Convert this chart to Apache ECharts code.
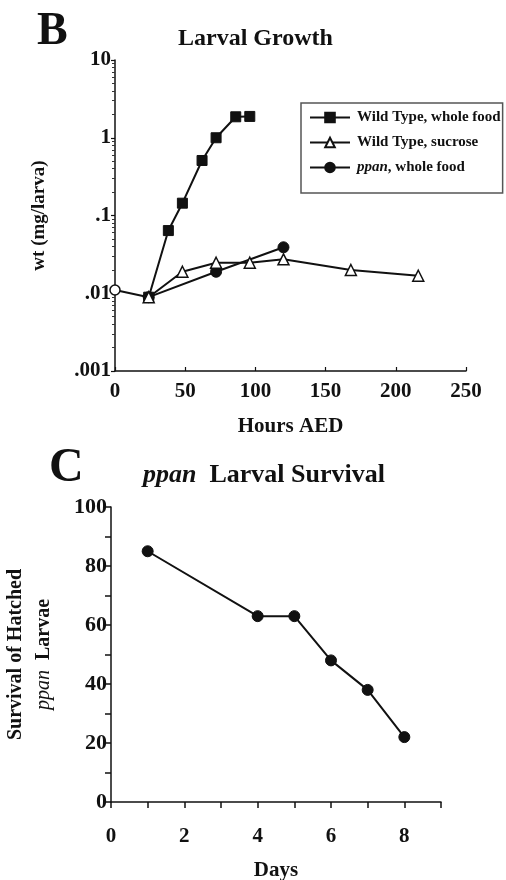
<!DOCTYPE html>
<html>
<head>
<meta charset="utf-8">
<script src="https://cdn.jsdelivr.net/npm/echarts@6/dist/echarts.min.js"></script>
<style>
  html, body { margin: 0; padding: 0; background: #fff; }
  #chart { width: 506px; height: 880px; }
</style>
</head>
<body>
<div id="chart"></div>
<script>
  // panel B: larval growth (wt in mg/larva vs hours AED)
  const wholeFoodHours = [24, 38, 48, 62, 72, 86, 96];
  const wholeFoodWt = [0.0089, 0.064, 0.144, 0.51, 1.0, 1.86, 1.88];
  const sucroseHours = [0, 24, 48, 72, 96, 120, 168, 216];
  const sucroseWt = [0.011, 0.0089, 0.0189, 0.0247, 0.0247, 0.0273, 0.0199, 0.0168];
  const ppanHours = [24, 72, 120];
  const ppanWt = [0.0089, 0.0189, 0.039];
  const wtTickValues = [0.001, 0.01, 0.1, 1, 10];
  const wtTickLabels = ['.001', '.01', '.1', '1', '10'];

  // panel C: ppan larval survival
  const survivalDays = [1, 4, 5, 6, 7, 8];
  const survivalPct = [85, 63, 63, 48, 38, 22];

  const serif = '"Liberation Serif", "DejaVu Serif", serif';
  const black = '#111';

  function pairs(xs, ys) {
    return xs.map((x, i) => [x, ys[i]]);
  }

  let chart = echarts.init(document.getElementById('chart'));

  let axisLabelStyle = {
    color: black,
    fontFamily: serif,
    fontWeight: 'bold',
    fontSize: 21
  };
  let nameStyle = {
    color: black,
    fontFamily: serif,
    fontWeight: 'bold',
    fontSize: 21
  };

  let option = {
    backgroundColor: '#fff',
    animation: false,
    graphic: [
      {type: 'text', left: 37, top: 9, style: {text: 'B', font: 'bold 46px ' + serif, fill: black}},
      {type: 'text', left: 49, top: 445, style: {text: 'C', font: 'bold 48px ' + serif, fill: black}}
    ],
    title: [
      {
        text: 'Larval Growth',
        left: 178,
        top: 27,
        padding: 0,
        textStyle: {color: black, fontFamily: serif, fontWeight: 'bold', fontSize: 24}
      },
      {
        text: '{i|ppan}{b|  Larval Survival}',
        left: 143,
        top: 462,
        padding: 0,
        textStyle: {
          rich: {
            i: {color: black, fontFamily: serif, fontStyle: 'italic', fontSize: 26},
            b: {color: black, fontFamily: serif, fontWeight: 'bold', fontSize: 26}
          }
        }
      }
    ],
    legend: {
      orient: 'vertical',
      left: 301,
      top: 103,
      padding: [7, 2, 18, 8],
      itemGap: 10,
      itemWidth: 40,
      itemHeight: 12,
      borderColor: '#555',
      borderWidth: 1.5,
      data: ['Wild Type, whole food', 'Wild Type, sucrose', 'ppan, whole food'],
      formatter: function (name) {
        if (name.indexOf('ppan') === 0) {
          return '{i|ppan}{b|' + name.slice(4) + '}';
        }
        return '{b|' + name + '}';
      },
      textStyle: {
        padding: [0, 0, 0, 2],
        rich: {
          i: {color: black, fontFamily: serif, fontStyle: 'italic', fontWeight: 'bold', fontSize: 15},
          b: {color: black, fontFamily: serif, fontWeight: 'bold', fontSize: 15}
        }
      }
    },
    grid: [
      {left: 115, top: 60, width: 351, height: 311, outerBoundsMode: 'none'},
      {left: 111, top: 507, width: 330, height: 295, outerBoundsMode: 'none'}
    ],
    xAxis: [
      {
        gridIndex: 0,
        type: 'value',
        min: 0,
        max: 250,
        interval: 50,
        name: 'Hours AED',
        nameLocation: 'middle',
        nameGap: 45,
        nameTextStyle: nameStyle,
        axisLine: {lineStyle: {color: black, width: 1.5}},
        axisTick: {inside: true, length: 4, lineStyle: {color: black, width: 1.2}},
        axisLabel: Object.assign({margin: 10}, axisLabelStyle),
        splitLine: {show: false}
      },
      {
        gridIndex: 1,
        type: 'value',
        min: 0,
        max: 9,
        interval: 1,
        name: 'Days',
        nameLocation: 'middle',
        nameGap: 58,
        nameTextStyle: nameStyle,
        axisLine: {lineStyle: {color: black, width: 1.5}},
        axisTick: {length: 6, lineStyle: {color: black, width: 1.5}},
        axisLabel: Object.assign({
          margin: 24,
          formatter: function (v) { return v % 2 === 0 ? String(v) : ''; }
        }, axisLabelStyle),
        splitLine: {show: false}
      }
    ],
    yAxis: [
      {
        gridIndex: 0,
        type: 'log',
        logBase: 10,
        min: 0.001,
        max: 10,
        name: 'wt (mg/larva)',
        nameLocation: 'middle',
        nameGap: 66,
        nameRotate: 90,
        nameTextStyle: Object.assign({}, nameStyle, {fontSize: 19}),
        axisLine: {show: true, lineStyle: {color: black, width: 1.5}},
        axisTick: {length: 4, lineStyle: {color: black, width: 1.2}},
        minorTick: {show: true, splitNumber: 9, length: 3, lineStyle: {color: '#333', width: 1}},
        axisLabel: Object.assign({
          margin: 4,
          formatter: function (v) {
            for (let i = 0; i < wtTickValues.length; i++) {
              if (Math.abs(Math.log10(v) - Math.log10(wtTickValues[i])) < 1e-6) return wtTickLabels[i];
            }
            return '';
          }
        }, axisLabelStyle),
        splitLine: {show: false}
      },
      {
        gridIndex: 1,
        type: 'value',
        min: 0,
        max: 100,
        interval: 10,
        name: '{b|Survival of Hatched}\n{i|ppan}{b|  Larvae}',
        nameLocation: 'middle',
        nameGap: 53,
        nameRotate: 90,
        nameTextStyle: {
          lineHeight: 28,
          rich: {
            b: {color: black, fontFamily: serif, fontWeight: 'bold', fontSize: 20, lineHeight: 28},
            i: {color: black, fontFamily: serif, fontStyle: 'italic', fontSize: 20, lineHeight: 28}
          }
        },
        axisLine: {show: true, lineStyle: {color: black, width: 1.5}},
        axisTick: {length: 6, lineStyle: {color: black, width: 1.5}},
        axisLabel: Object.assign({
          margin: 4,
          formatter: function (v) { return v % 20 === 0 ? String(v) : ''; }
        }, axisLabelStyle, {fontSize: 22}),
        splitLine: {show: false}
      }
    ],
    series: [
      {
        name: 'Wild Type, whole food',
        type: 'line',
        xAxisIndex: 0,
        yAxisIndex: 0,
        data: pairs(wholeFoodHours, wholeFoodWt),
        symbol: 'rect',
        symbolSize: 10,
        showAllSymbol: true,
        lineStyle: {color: black, width: 2},
        itemStyle: {color: black, borderColor: black, borderWidth: 1},
        z: 2
      },
      {
        name: 'ppan, whole food',
        type: 'line',
        xAxisIndex: 0,
        yAxisIndex: 0,
        data: pairs(ppanHours, ppanWt),
        symbol: 'circle',
        symbolSize: 11,
        showAllSymbol: true,
        lineStyle: {color: black, width: 2},
        itemStyle: {color: black, borderColor: black, borderWidth: 1},
        z: 3
      },
      {
        name: 'Wild Type, sucrose',
        type: 'line',
        xAxisIndex: 0,
        yAxisIndex: 0,
        data: pairs(sucroseHours, sucroseWt).map(function (p, i) {
          return i === 0 ? {value: p, symbol: 'circle', symbolSize: 10} : p;
        }),
        symbol: 'triangle',
        symbolSize: 11,
        showAllSymbol: true,
        lineStyle: {color: black, width: 2},
        itemStyle: {color: '#fff', borderColor: black, borderWidth: 1.5},
        z: 4
      },
      {
        name: 'survival',
        type: 'line',
        xAxisIndex: 1,
        yAxisIndex: 1,
        data: pairs(survivalDays, survivalPct),
        symbol: 'circle',
        symbolSize: 11,
        showAllSymbol: true,
        lineStyle: {color: black, width: 2},
        itemStyle: {color: black, borderColor: black, borderWidth: 1}
      }
    ]
  };

  chart.setOption(option);
</script>
</body>
</html>
